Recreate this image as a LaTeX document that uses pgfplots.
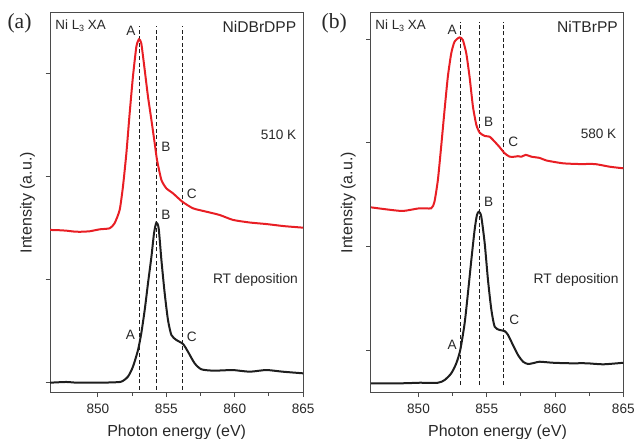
\documentclass[border=0pt]{standalone}
\usepackage{pgfplots}
\pgfplotsset{compat=1.18}
\usepackage{fontspec}
\setmainfont{Liberation Sans}
\newfontfamily\seriffont{Liberation Serif}
\definecolor{myred}{RGB}{232,30,36}
\definecolor{mydark}{RGB}{30,30,30}
\definecolor{axgray}{RGB}{75,75,75}
\definecolor{txt}{RGB}{40,40,40}
\pgfplotsset{
  panel/.style={
    scale only axis, width=126.6pt, height=190pt, anchor=south west,
    xmin=846.5, xmax=865, xtick={850,855,860,865}, minor x tick num=1,
    tick align=outside, xtick pos=bottom, ytick pos=left,
    yticklabels={}, major tick length=2.2pt, minor tick length=1.7pt,
    axis line style={axgray, line width=0.5pt},
    every tick/.append style={axgray, line width=0.5pt},
    tick label style={font=\fontsize{6.8}{8}\selectfont, text=txt},
    /pgf/number format/assume math mode=true,
    /pgf/number format/1000 sep={},
  },
  dline/.style={mydark, line width=0.5pt, dash pattern=on 2pt off 1.3pt, forget plot},
  rline/.style={myred, line width=1pt, smooth, tension=0.35},
  kline/.style={mydark, line width=1pt, smooth, tension=0.4},
}
\begin{document}
\begin{tikzpicture}
% ---------------- panel (a)
\begin{axis}[panel, at={(25pt,23.15pt)}, ymin=-0.097, ymax=3.592, ytick={0,1,2,3}]
\addplot[dline] coordinates {(853.03,-0.07) (853.03,3.46)};
\addplot[dline] coordinates {(854.27,-0.07) (854.27,3.46)};
\addplot[dline] coordinates {(856.20,-0.07) (856.20,3.46)};
\addplot[rline] coordinates {
(846.5,1.483) (847.2,1.480) (847.69,1.476) (848.2,1.468) (848.66,1.465) (849.4,1.470)
(850.13,1.489) (850.86,1.499) (851.22,1.548) (851.59,1.677) (851.83,1.903) (852.08,2.227)
(852.32,2.615) (852.56,2.971) (852.81,3.262) (853.0,3.334) (853.17,3.295) (853.42,3.036)
(853.66,2.777) (853.91,2.55) (854.15,2.324) (854.32,2.162) (854.64,1.968) (855.0,1.887)
(855.49,1.838) (856.17,1.757) (856.95,1.693) (857.93,1.66) (858.9,1.628) (859.88,1.58)
(861.1,1.555) (862.32,1.54) (863.6,1.52) (865,1.505)};
\addplot[kline] coordinates {
(846.5,0.0) (847.69,0.007) (848.5,0.0) (850.12,0.0) (851.0,0.003) (851.71,0.01)
(852.19,0.058) (852.56,0.155) (852.93,0.317) (853.17,0.48) (853.42,0.706) (853.66,0.965)
(853.91,1.223) (854.10,1.45) (854.27,1.553) (854.44,1.499) (854.64,1.191) (854.88,0.868)
(855.12,0.609) (855.37,0.463) (855.73,0.415) (856.22,0.376) (856.58,0.301) (857.07,0.188)
(857.56,0.13) (858.41,0.117) (859.2,0.12) (859.88,0.123) (861.1,0.107) (862.3,0.123)
(863.5,0.107) (865,0.091)};
\end{axis}
% ---------------- panel (b)
\begin{axis}[panel, at={(185.35pt,23.15pt)}, width=126.3pt, ymin=0.589, ymax=4.257, ytick={1,2,3,4}]
\addplot[dline] coordinates {(853.08,0.663) (853.08,4.17)};
\addplot[dline] coordinates {(854.48,0.663) (854.48,4.17)};
\addplot[dline] coordinates {(856.26,0.663) (856.26,4.17)};
\addplot[rline] coordinates {
(846.53,2.378) (847.63,2.359) (848.85,2.343) (850.07,2.369) (850.93,2.369) (851.17,2.432)
(851.42,2.642) (851.66,2.963) (851.91,3.318) (852.15,3.639) (852.40,3.865) (852.64,3.977)
(853.01,4.019) (853.25,3.993) (853.50,3.865) (853.74,3.639) (853.99,3.349) (854.24,3.173)
(854.48,3.099) (854.85,3.067) (855.21,3.06) (855.58,3.012) (855.95,2.958) (856.31,2.9)
(856.68,2.867) (857.05,2.867) (857.29,2.872) (857.54,2.867) (857.86,2.885) (858.27,2.867)
(858.88,2.855) (859.38,2.830) (860.60,2.803) (861.82,2.796) (862.92,2.796) (864.02,2.77)
(865,2.755)};
\addplot[kline] coordinates {
(846.53,0.68) (848.85,0.68) (850.07,0.685) (851.42,0.685) (851.91,0.711) (852.40,0.776)
(852.77,0.873) (853.06,1.001) (853.38,1.259) (853.62,1.548) (853.87,1.87) (854.11,2.159)
(854.28,2.304) (854.43,2.336) (854.60,2.288) (854.85,2.031) (855.09,1.677) (855.34,1.387)
(855.58,1.226) (855.95,1.194) (856.31,1.184) (856.56,1.146) (856.92,1.049) (857.29,0.953)
(857.66,0.888) (858.03,0.866) (858.52,0.878) (858.88,0.888) (859.86,0.878) (861.09,0.873)
(862.31,0.873) (863.53,0.863) (865,0.878)};
\end{axis}
% ---------------- texts
\begin{scope}[every node/.style={text=txt, inner sep=0pt}]
\node[anchor=base, font=\seriffont\fontsize{10.8}{12}\selectfont] at (9.75pt,205pt) {(a)};
\node[anchor=base, font=\seriffont\fontsize{10.8}{12}\selectfont] at (167.1pt,205pt) {(b)};
\node[anchor=base west, font=\fontsize{6.7}{8}\selectfont] at (27.5pt,204.85pt) {Ni L\raisebox{-0.35ex}{\fontsize{4.5}{5}\selectfont 3} XA};
\node[anchor=base west, font=\fontsize{6.7}{8}\selectfont] at (187.5pt,204.85pt) {Ni L\raisebox{-0.35ex}{\fontsize{4.5}{5}\selectfont 3} XA};
\node[anchor=base east, font=\fontsize{7.8}{9}\selectfont] at (148.35pt,203.35pt) {NiDBrDPP};
\node[anchor=base east, font=\fontsize{7.8}{9}\selectfont] at (309.15pt,203.35pt) {NiTBrPP};
\node[anchor=base east, font=\fontsize{6.8}{8}\selectfont] at (148.35pt,149.85pt) {510 K};
\node[anchor=base east, font=\fontsize{6.8}{8}\selectfont] at (308.35pt,150.35pt) {580 K};
\node[anchor=base east, font=\fontsize{6.9}{8}\selectfont] at (149.15pt,77.5pt) {RT deposition};
\node[anchor=base east, font=\fontsize{6.9}{8}\selectfont] at (309.5pt,77.85pt) {RT deposition};
% peak labels (a)
\begin{scope}[every node/.append style={anchor=base, font=\fontsize{6.8}{8}\selectfont}]
\node at (65.4pt,201.5pt) {A};
\node at (82.9pt,143.65pt) {B};
\node at (95.85pt,120.35pt) {C};
\node at (82.9pt,109.85pt) {B};
\node at (65.25pt,49.85pt) {A};
\node at (95.85pt,48.65pt) {C};
% peak labels (b)
\node at (226.1pt,202pt) {A};
\node at (244.35pt,156.15pt) {B};
\node at (256.65pt,146.15pt) {C};
\node at (244.35pt,116.15pt) {B};
\node at (226.1pt,44.5pt) {A};
\node at (257.15pt,57pt) {C};
\end{scope}
% axis labels
\node[anchor=base, font=\fontsize{8}{9}\selectfont] at (88.35pt,1.25pt) {Photon energy (eV)};
\node[anchor=base, font=\fontsize{8}{9}\selectfont] at (248.75pt,1.25pt) {Photon energy (eV)};
\node[anchor=base, rotate=90, font=\fontsize{8}{9}\selectfont] at (15.85pt,118.15pt) {Intensity (a.u.)};
\node[anchor=base, rotate=90, font=\fontsize{8}{9}\selectfont] at (176.2pt,118.15pt) {Intensity (a.u.)};
\end{scope}
\pgfresetboundingbox
\path[use as bounding box] (0,0) rectangle (317pt,219.5pt);
\end{tikzpicture}
\end{document}
